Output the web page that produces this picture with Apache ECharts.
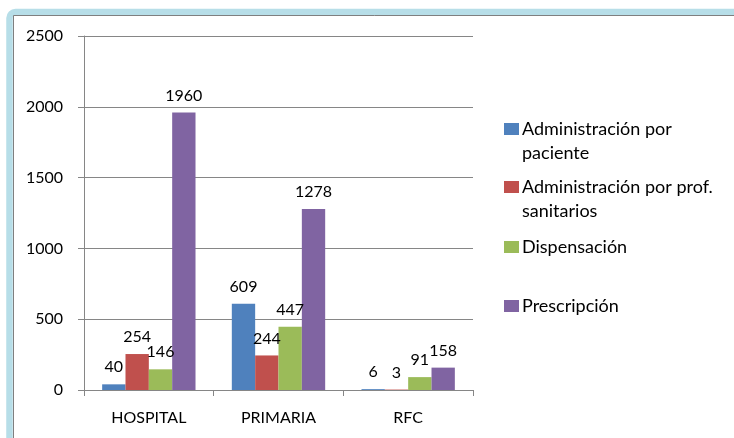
<!DOCTYPE html>
<html>
<head>
<meta charset="utf-8">
<script src="https://cdn.jsdelivr.net/npm/echarts@6/dist/echarts.min.js"></script>
<style>
  html, body { margin: 0; padding: 0; background: #fff; }
  #chart { width: 734px; height: 438px; }
</style>
</head>
<body>
<div id="chart"></div>
<script>
const categories = ['HOSPITAL', 'PRIMARIA', 'RFC']
const seriesNames = [
  'Administración por paciente',
  'Administración por prof. sanitarios',
  'Dispensación',
  'Prescripción'
]
const adminPaciente = [40, 609, 6]
const adminProf = [254, 244, 3]
const dispensacion = [146, 447, 91]
const prescripcion = [1960, 1278, 158]
const yTicks = [0, 500, 1000, 1500, 2000, 2500]

const colors = ['#4F81BD', '#C0504D', '#9BBB59', '#8064A2']
// a blank first line keeps the icon level with the first text line
const legendText = {
  'Administración por paciente': '\nAdministración por\npaciente',
  'Administración por prof. sanitarios': '\nAdministración por prof.\nsanitarios'
}
const font = 'Lato'
const gray = '#868686'

const chart = echarts.init(document.getElementById('chart'))

const legendTops = [93, 151, 235, 294]
const legends = seriesNames.map((name, i) => ({
  data: [name],
  left: 504,
  top: legendTops[i],
  padding: 0,
  icon: 'rect',
  itemWidth: 15,
  itemHeight: 12,
  itemGap: 0,
  selectedMode: false,
  formatter: n => legendText[n] || n,
  textStyle: {
    fontFamily: font,
    fontSize: 18,
    color: '#000',
    lineHeight: 24,
    padding: [0, 0, 0, -2]
  }
}))

const values = [adminPaciente, adminProf, dispensacion, prescripcion]

chart.setOption({
  animation: false,
  textStyle: { fontFamily: font },
  color: colors,
  graphic: [
    {
      type: 'rect',
      shape: { x: 9.5, y: 12, width: 800, height: 500, r: 6 },
      style: { fill: 'none', stroke: '#B7DEE8', lineWidth: 6.5 },
      silent: true
    },
    {
      type: 'rect',
      shape: { x: 13.5, y: 15.5, width: 800, height: 500 },
      style: { fill: 'none', stroke: '#7F7F7F', lineWidth: 1 },
      silent: true
    }
  ],
  legend: legends,
  grid: {
    left: 84,
    right: 261,
    top: 36,
    bottom: 48
  },
  xAxis: {
    type: 'category',
    data: categories,
    axisLine: { lineStyle: { color: gray } },
    axisTick: { show: true, length: 6, lineStyle: { color: gray } },
    axisLabel: { color: '#000', fontSize: 16, margin: 20, fontFamily: font }
  },
  yAxis: {
    type: 'value',
    min: yTicks[0],
    max: yTicks[yTicks.length - 1],
    interval: 500,
    axisLine: { show: true, lineStyle: { color: gray } },
    axisTick: { show: true, length: 6, lineStyle: { color: gray } },
    axisLabel: {
      color: '#000',
      fontSize: 16,
      margin: 21,
      fontFamily: font,
      formatter: v => String(v)
    },
    splitLine: { lineStyle: { color: gray } }
  },
  series: seriesNames.map((name, i) => ({
    name: name,
    type: 'bar',
    data: values[i],
    barGap: '0%',
    barCategoryGap: '28%',
    itemStyle: { color: colors[i] },
    label: {
      show: true,
      position: 'top',
      distance: 9,
      color: '#000',
      fontSize: 16,
      fontFamily: font
    }
  }))
})
</script>
</body>
</html>
